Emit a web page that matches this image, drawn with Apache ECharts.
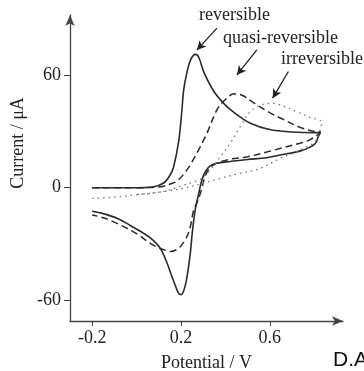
<!DOCTYPE html>
<html>
<head>
<meta charset="utf-8">
<script src="https://cdn.jsdelivr.net/npm/echarts@6/dist/echarts.min.js"></script>
<style>
  html, body { margin: 0; padding: 0; background: #fff; }
  #chart { width: 364px; height: 371px; }
</style>
</head>
<body>
<div id="chart"></div>
<script>
// potential (V), current (uA) pairs
const reversible = [
  [-0.2, 0], [0.0, 0], [0.077, 0.5], [0.122, 2.5], [0.15, 6.5], [0.167, 11.2], [0.19, 25],
  [0.204, 41], [0.212, 52], [0.228, 62], [0.245, 68.5], [0.265, 71], [0.28, 69.5],
  [0.305, 61], [0.35, 51], [0.4, 44], [0.44, 40], [0.51, 34.5], [0.6, 31], [0.7, 29.7],
  [0.8, 29.3], [0.828, 29.5],
  [0.818, 27], [0.805, 23.5], [0.78, 21.5], [0.736, 19.5], [0.646, 17.4], [0.586, 16],
  [0.5, 15], [0.422, 14], [0.36, 13], [0.33, 11.5], [0.31, 8.5], [0.294, 4], [0.282, -2],
  [0.264, -12], [0.25, -25], [0.242, -35], [0.225, -49], [0.212, -55], [0.2, -57],
  [0.188, -56], [0.174, -52], [0.155, -46], [0.137, -40], [0.107, -32.3], [0.07, -27.5],
  [0.032, -24.3], [-0.03, -20], [-0.088, -16.3], [-0.15, -13.8], [-0.2, -12.5]
];
const quasiReversible = [
  [-0.2, 0], [0.0, 0], [0.09, 0.3], [0.122, 0.8], [0.152, 2], [0.182, 3.5], [0.227, 9.5],
  [0.272, 18.5], [0.317, 29], [0.362, 41.5], [0.4, 47], [0.44, 50], [0.48, 49],
  [0.53, 45], [0.6, 40], [0.65, 37], [0.74, 32], [0.8, 30], [0.828, 29.5],
  [0.82, 28.5], [0.78, 25.5], [0.736, 23.7], [0.65, 21], [0.586, 19], [0.5, 16.5],
  [0.422, 15.2], [0.36, 13], [0.33, 10.5], [0.31, 6.5], [0.29, -2], [0.272, -8],
  [0.257, -12], [0.242, -20.8], [0.227, -26], [0.2, -31], [0.18, -33], [0.152, -34],
  [0.137, -33.6], [0.1, -32], [0.062, -29.7], [0.0, -24.5], [-0.088, -19], [-0.15, -16],
  [-0.2, -14.5]
];
const irreversible = [
  [-0.2, -5.7], [-0.1, -5], [-0.013, -3.9], [0.062, -3], [0.137, -1.5], [0.212, 1.4],
  [0.25, 2.8], [0.287, 4.5], [0.332, 9.4], [0.377, 16.5], [0.422, 23.7], [0.467, 32.5],
  [0.512, 40.5], [0.56, 44], [0.616, 45], [0.66, 43.5], [0.72, 40.5], [0.78, 37.5],
  [0.834, 35],
  [0.825, 30], [0.8, 24], [0.75, 21], [0.706, 18.3], [0.653, 16], [0.557, 10.3],
  [0.467, 7.7], [0.377, 5], [0.3, 2.5], [0.212, -0.3], [0.137, -1.8], [0.062, -3],
  [0.0, -3.6]
];
const xTicks = [-0.2, 0.2, 0.6];
const yTicks = [-60, 0, 60];
// arrow start/end points, in data units
const arrows = [
  [[0.362, 85], [0.272, 73.4]],
  [[0.542, 73.4], [0.452, 60.1]],
  [[0.684, 61.9], [0.613, 47.7]]
];

const serif = '"Liberation Serif", "DejaVu Serif", serif';
const ink = '#2a2a2a';

const chart = echarts.init(document.getElementById('chart'));

const lineSeries = (name, data, type, width, color) => ({
  name,
  type: 'line',
  data,
  smooth: 0.35,
  showSymbol: false,
  silent: true,
  lineStyle: { color, width, type }
});

const arrowSeries = {
  type: 'line',
  data: [],
  silent: true,
  markLine: {
    silent: true,
    symbol: ['none', 'arrow'],
    symbolSize: [7, 9],
    label: { show: false },
    lineStyle: { color: '#222', width: 1.3, type: 'solid' },
    data: arrows.map(a => [{ coord: a[0] }, { coord: a[1] }])
  }
};

const option = {
  animation: false,
  grid: { left: 70, right: 21, top: 15, bottom: 50, outerBoundsMode: 'none', containLabel: false },
  xAxis: {
    type: 'value',
    min: -0.3,
    max: 0.93,
    name: 'Potential / V',
    nameLocation: 'middle',
    nameGap: 33,
    nameTextStyle: { fontFamily: serif, fontSize: 18, color: '#222' },
    axisLine: { onZero: false, symbol: ['none', 'arrow'], symbolSize: [7, 11], lineStyle: { color: '#444', width: 1.3 } },
    axisTick: { customValues: xTicks, length: 5, lineStyle: { color: '#444' } },
    axisLabel: { customValues: xTicks, margin: 8, fontFamily: serif, fontSize: 18, color: '#222' },
    splitLine: { show: false }
  },
  yAxis: {
    type: 'value',
    min: -71,
    max: 92,
    axisLine: { show: true, onZero: false, symbol: ['none', 'arrow'], symbolSize: [7, 11], lineStyle: { color: '#444', width: 1.3 } },
    axisTick: { show: true, customValues: yTicks, length: 6, lineStyle: { color: '#444' } },
    axisLabel: { customValues: yTicks, margin: 9, fontFamily: serif, fontSize: 18, color: '#222' },
    splitLine: { show: false }
  },
  graphic: [
    { type: 'text', x: 18, y: 143, rotation: Math.PI / 2,
      style: { text: 'Current / μA', font: '18px ' + serif, fill: '#222', align: 'center', verticalAlign: 'middle' } },
    { type: 'text', left: 199, top: 6, style: { text: 'reversible', font: '18px ' + serif, fill: '#222' } },
    { type: 'text', left: 223, top: 29, style: { text: 'quasi-reversible', font: '18px ' + serif, fill: '#222' } },
    { type: 'text', left: 281, top: 50, style: { text: 'irreversible', font: '18px ' + serif, fill: '#222' } },
    { type: 'text', left: 333, top: 350, style: { text: 'D.A', font: '21px "Liberation Sans", Arial, sans-serif', fill: '#111' } }
  ],
  series: [
    lineSeries('reversible', reversible, 'solid', 1.6, ink),
    lineSeries('quasi-reversible', quasiReversible, [7, 4], 1.5, ink),
    lineSeries('irreversible', irreversible, [1.5, 4], 1.3, '#777'),
    arrowSeries
  ]
};

chart.setOption(option);
</script>
</body>
</html>
